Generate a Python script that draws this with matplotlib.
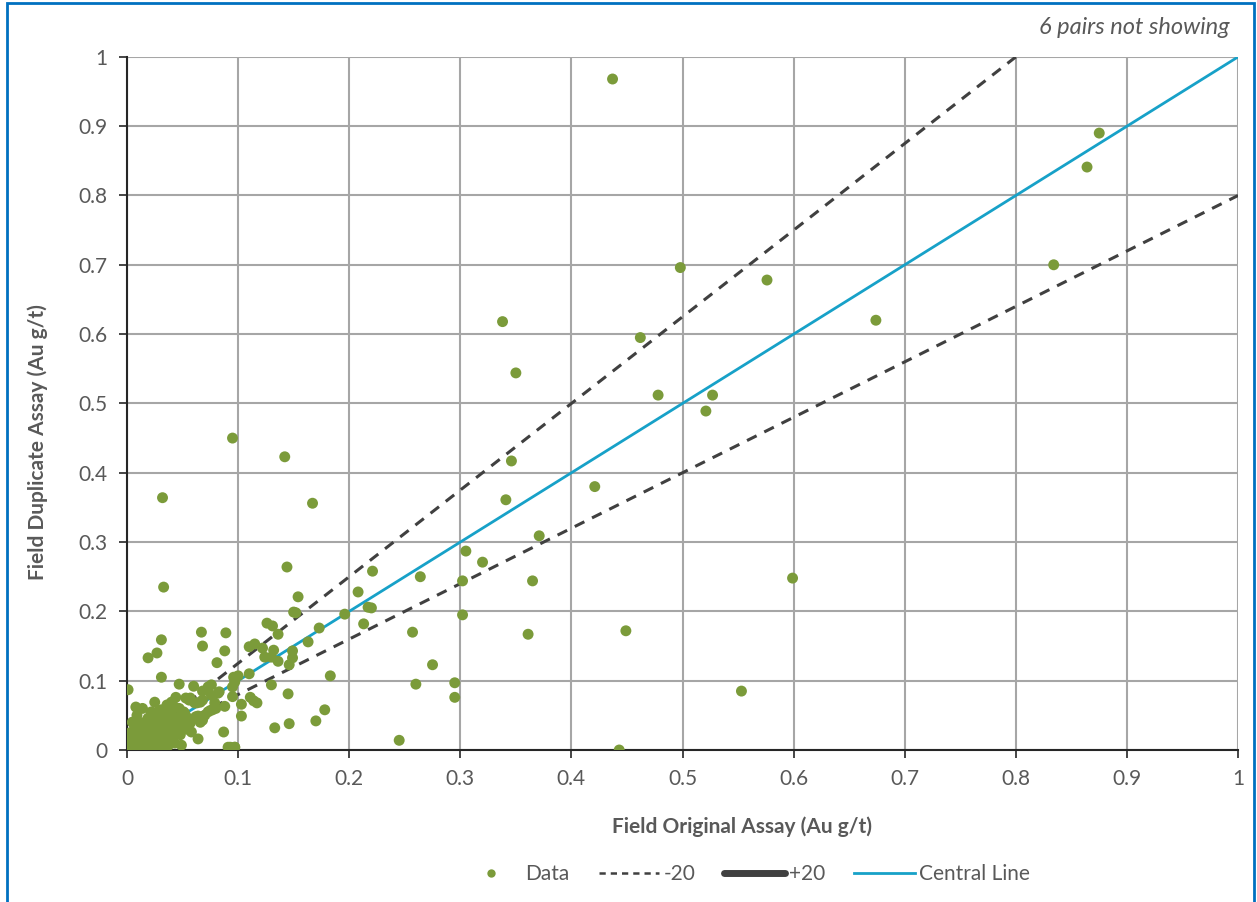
import matplotlib.pyplot as plt
from matplotlib.lines import Line2D
from matplotlib.patches import Rectangle
from matplotlib.ticker import FuncFormatter

plt.rcParams['font.family'] = ['Lato', 'DejaVu Sans']

# field duplicate pairs (original, duplicate), Au g/t
orig = [
	0.437, 0.875, 0.864, 0.834, 0.498, 0.576, 0.674, 0.338, 0.462, 0.350,
	0.478, 0.527, 0.521, 0.095, 0.142, 0.346, 0.421, 0.167, 0.032, 0.341,
	0.371, 0.305, 0.320, 0.221, 0.144, 0.033, 0.264, 0.302, 0.365, 0.599,
	0.154, 0.208, 0.196, 0.217, 0.220, 0.150, 0.152, 0.302, 0.213, 0.257,
	0.361, 0.449, 0.173, 0.163, 0.275, 0.183, 0.260, 0.295, 0.295, 0.553,
	0.178, 0.170, 0.146, 0.133, 0.245, 0.443, 0.145, 0.126, 0.131, 0.136,
	0.110, 0.115, 0.122, 0.132, 0.149, 0.124, 0.130, 0.136, 0.149, 0.146,
	0.110, 0.096, 0.100, 0.097, 0.095, 0.130, 0.095, 0.103, 0.111, 0.114,
	0.117, 0.103, 0.097, 0.093, 0.031, 0.019, 0.027, 0.067, 0.089, 0.068,
	0.088, 0.081, 0.031, 0.047, 0.060, 0.001, 0.073, 0.076, 0.082, 0.057,
	0.061, 0.066, 0.044, 0.043, 0.022, 0.031, 0.037, 0.040, 0.088, 0.079,
	0.077, 0.073, 0.052, 0.055, 0.049, 0.057, 0.064, 0.066, 0.005, 0.012,
	0.019, 0.025, 0.031, 0.037, 0.043, 0.058, 0.064, 0.087, 0.048, 0.049,
	0.034, 0.037, 0.001, 0.010, 0.016, 0.022, 0.028, 0.000, 0.005, 0.014,
	0.028, 0.091, 0.097, 0.008, 0.025, 0.068, 0.068, 0.076, 0.083, 0.053,
	0.056, 0.063, 0.045, 0.040, 0.051, 0.070, 0.075, 0.080, 0.068, 0.062,
	0.002, 0.004, 0.006, 0.008, 0.010, 0.012, 0.013, 0.015, 0.016, 0.018,
	0.019, 0.020, 0.021, 0.022, 0.024, 0.025, 0.026, 0.027, 0.028, 0.030,
	0.031, 0.032, 0.033, 0.034, 0.035, 0.036, 0.038, 0.039, 0.040, 0.042,
	0.043, 0.044, 0.046, 0.047, 0.005, 0.003, 0.007, 0.009, 0.011, 0.014,
	0.017, 0.001, 0.023, 0.029, 0.035, 0.041, 0.050, 0.054, 0.036, 0.026,
]
dup = [
	0.968, 0.890, 0.841, 0.700, 0.696, 0.678, 0.620, 0.618, 0.595, 0.544,
	0.512, 0.512, 0.489, 0.450, 0.423, 0.417, 0.380, 0.356, 0.364, 0.361,
	0.309, 0.287, 0.271, 0.258, 0.264, 0.235, 0.250, 0.244, 0.244, 0.248,
	0.221, 0.228, 0.196, 0.206, 0.205, 0.199, 0.198, 0.195, 0.182, 0.170,
	0.167, 0.172, 0.176, 0.156, 0.123, 0.107, 0.095, 0.097, 0.076, 0.085,
	0.058, 0.042, 0.038, 0.032, 0.014, 0.000, 0.081, 0.183, 0.179, 0.167,
	0.149, 0.153, 0.147, 0.144, 0.143, 0.134, 0.134, 0.128, 0.133, 0.123,
	0.110, 0.105, 0.107, 0.098, 0.091, 0.094, 0.077, 0.066, 0.076, 0.071,
	0.068, 0.049, 0.004, 0.004, 0.159, 0.133, 0.140, 0.170, 0.169, 0.150,
	0.143, 0.126, 0.105, 0.095, 0.092, 0.087, 0.091, 0.079, 0.082, 0.075,
	0.068, 0.069, 0.076, 0.062, 0.055, 0.058, 0.062, 0.069, 0.063, 0.068,
	0.058, 0.055, 0.053, 0.046, 0.043, 0.039, 0.049, 0.040, 0.040, 0.039,
	0.046, 0.036, 0.033, 0.033, 0.039, 0.026, 0.016, 0.026, 0.022, 0.007,
	0.014, 0.006, 0.022, 0.017, 0.012, 0.007, 0.014, 0.004, 0.003, 0.004,
	0.004, 0.004, 0.004, 0.062, 0.069, 0.085, 0.072, 0.094, 0.084, 0.075,
	0.072, 0.068, 0.047, 0.054, 0.055, 0.050, 0.057, 0.060, 0.043, 0.048,
	0.005, 0.012, 0.002, 0.020, 0.008, 0.030, 0.015, 0.004, 0.040, 0.025,
	0.010, 0.045, 0.002, 0.018, 0.033, 0.050, 0.008, 0.028, 0.040, 0.015,
	0.022, 0.048, 0.035, 0.005, 0.042, 0.026, 0.018, 0.052, 0.034, 0.045,
	0.010, 0.028, 0.038, 0.060, 0.040, 0.025, 0.033, 0.050, 0.000, 0.060,
	0.035, 0.015, 0.024, 0.057, 0.030, 0.020, 0.036, 0.030, 0.065, 0.010,
]

line_x = [0, 1]
central = [0, 1]
upper_x = [0, 0.8]
upper_y = [0, 1.0]
lower_y = [0, 0.8]

grey = '#595959'
fig = plt.figure(figsize=(12.57, 9.02), dpi=100)
ax = fig.add_axes([0.101, 0.1685, 0.884, 0.7685])

ax.plot(upper_x, upper_y, color='#404040', lw=2.2, ls=(0, (3.5, 2.8)), zorder=2)
ax.plot(line_x, lower_y, color='#404040', lw=2.2, ls=(0, (3.5, 2.8)), zorder=2)
ax.plot(line_x, central, color='#17A1C8', lw=2, zorder=2)
ax.scatter(orig, dup, s=62, color='#7B9B3A', edgecolor='none', zorder=3)

ax.set_xlim(0, 1)
ax.set_ylim(0, 1)
ticks = [i / 10 for i in range(11)]
ax.set_xticks(ticks)
ax.set_yticks(ticks)
fmt = FuncFormatter(lambda v, p: '{:g}'.format(round(v, 1)))
ax.xaxis.set_major_formatter(fmt)
ax.yaxis.set_major_formatter(fmt)
ax.grid(True, color='#A6A6A6', lw=1.5, zorder=0)
ax.set_axisbelow(True)
for s in ['top', 'right']:
	ax.spines[s].set_visible(False)
for s in ['left', 'bottom']:
	ax.spines[s].set_color('#262626')
	ax.spines[s].set_linewidth(1.5)
ax.tick_params(direction='out', length=6, width=1.2, color='#262626',
	labelsize=15, labelcolor=grey, pad=8)

# axis titles sit a bit off-centre in the original
fig.text(0.590, 0.084, 'Field Original Assay (Au g/t)', ha='center', va='center',
	fontsize=15, fontweight='bold', color=grey)
fig.text(0.030, 0.510, 'Field Duplicate Assay (Au g/t)', ha='center', va='center',
	rotation=90, fontsize=15, fontweight='bold', color=grey)

fig.text(0.978, 0.969, '6 pairs not showing', ha='right', va='center',
	fontsize=17, style='italic', color=grey)

handles = [
	Line2D([], [], ls='none', marker='o', ms=6, color='#7B9B3A', mec='none'),
	Line2D([], [], color='#404040', lw=1.8, ls=(0, (2.5, 2))),
	Line2D([], [], color='#404040', lw=5, solid_capstyle='round'),
	Line2D([], [], color='#17A1C8', lw=2),
]
fig.legend(handles, ['Data', '-20', '+20', 'Central Line'], loc='center',
	bbox_to_anchor=(0.593, 0.031), ncol=4, frameon=False, fontsize=15,
	labelcolor=grey, handlelength=2.9, handletextpad=0.2, columnspacing=1.4)

fig.add_artist(Rectangle((0.0055, -0.05), 0.9925, 1.047, transform=fig.transFigure,
	fill=False, ec='#0070C0', lw=2))

fig.savefig('out.png', dpi=100)
